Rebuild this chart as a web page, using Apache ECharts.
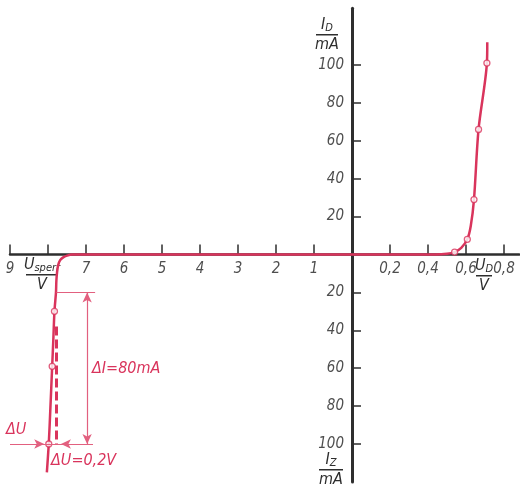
<!DOCTYPE html>
<html>
<head>
<meta charset="utf-8">
<title>zdiode_kennlinie</title>
<script src="https://cdn.jsdelivr.net/npm/echarts@6/dist/echarts.min.js"></script>
<style>
  html, body { margin: 0; padding: 0; background: #fff; }
  #main { width: 520px; height: 488px; }
</style>
</head>
<body>
<div id="main"></div>
<script>
// Durchlassbereich (U in V, I in mA)
var uFwd = [0, 0.44, 0.50, 0.54, 0.575, 0.607, 0.625, 0.642, 0.666, 0.71, 0.712];
var iFwd = [0, 0, 0.4, 1.3, 3.5, 8, 15, 29, 66, 101, 112];
var uFwdPts = [0.54, 0.607, 0.642, 0.666, 0.71];
var iFwdPts = [1.3, 8, 29, 66, 101];

// Sperrbereich (U in V, I in mA, Betraege)
var uRev = [0, 7.37, 7.5, 7.6, 7.68, 7.73, 7.76, 7.78, 7.79, 7.83, 7.86, 7.89, 7.935, 7.98, 8.03];
var iRev = [0, 0, 0.6, 1.5, 3, 5.5, 9, 14, 20, 30, 45, 59, 80, 100, 115];
var uRevPts = [7.83, 7.89, 7.98];
var iRevPts = [30, 59, 100];

// Achsbeschriftung
var xTicksRev = [9, 8, 7, 6, 5, 4, 3, 2, 1];   // V, 1 V je Teilung
var xLabelsRev = [9, 7, 6, 5, 4, 3, 2, 1];     // bei 8 steht U_sperr/V
var xTicksFwd = [0.2, 0.4, 0.6, 0.8];          // V, 0,2 V je Teilung
var yTicks = [20, 40, 60, 80, 100];

var RED = '#d9345c';
var THIN = '#e2607f';
var AX = '#2e2e2e';
var FONT = "'DejaVu Sans Condensed', 'DejaVu Sans', sans-serif";

// x-Achse in Teilungen: links -U (1 V), rechts U/0,2
function xr(u) { return -u; }
function xf(u) { return u / 0.2; }

var revLine = uRev.map(function (u, k) { return [xr(u), -iRev[k]]; });
var fwdLine = uFwd.map(function (u, k) { return [xf(u), iFwd[k]]; });
var pts = uRevPts.map(function (u, k) { return [xr(u), -iRevPts[k]]; })
  .concat(uFwdPts.map(function (u, k) { return [xf(u), iFwdPts[k]]; }));

var xTickVals = xTicksRev.map(xr).concat(xTicksFwd.map(xf));
var yTickVals = yTicks.map(function (v) { return -v; }).concat(yTicks);

// Beschriftungen sitzen an der Nulllinie, deshalb als Label-Reihen
var xLabelData = xLabelsRev.map(function (u) { return { value: [xr(u), 0], name: String(u) }; })
  .concat(xTicksFwd.map(function (u) { return { value: [xf(u), 0], name: u.toFixed(1).replace('.', ',') }; }));
var yLabelData = yTicks.map(function (v) { return { value: [0, v], name: String(v) }; })
  .concat(yTicks.map(function (v) { return { value: [0, -v], name: String(v) }; }));

function frac(cx, top, main, sub, den, w) {
  return {
    type: 'group',
    children: [
      { type: 'text', x: cx, y: top, style: {
          text: '{m|' + main + '}{s|' + sub + '}', align: 'center', verticalAlign: 'middle',
          rich: {
            m: { font: 'italic 16px ' + FONT, fill: AX },
            s: { font: 'italic 11px ' + FONT, fill: AX, padding: [7, 0, 0, 0] }
          } } },
      { type: 'rect', shape: { x: cx - w / 2, y: top + 9, width: w, height: 1.5 }, style: { fill: AX } },
      { type: 'text', x: cx, y: top + 20, style: {
          text: den, align: 'center', verticalAlign: 'middle', font: 'italic 16px ' + FONT, fill: AX } }
    ]
  };
}

function note(x, y, txt) {
  return { type: 'text', x: x, y: y, style: {
    text: txt, verticalAlign: 'middle', font: 'italic 16px ' + FONT, fill: RED } };
}

var tickFont = { fontFamily: FONT, fontStyle: 'italic', fontSize: 15, color: '#222' };

var myChart = echarts.init(document.getElementById('main'));

option = {
    animation: false,
    grid: { left: 10, right: 0.8, top: 8.15, bottom: 6.1, containLabel: false, outerBoundsMode: 'none' },
    xAxis: {
        type: 'value', min: -9, max: 4.4, z: 3,
        splitLine: { show: false },
        axisLine: { onZero: true, lineStyle: { color: AX, width: 2.5 } },
        axisTick: { inside: true, length: 10, customValues: xTickVals, lineStyle: { color: AX, width: 1.5 } },
        axisLabel: { show: false }
    },
    yAxis: {
        type: 'value', min: -120, max: 130, z: 3,
        splitLine: { show: false },
        axisLine: { onZero: true, lineStyle: { color: AX, width: 3 } },
        axisTick: { inside: true, length: 9, customValues: yTickVals, lineStyle: { color: AX, width: 1.5 } },
        axisLabel: { show: false }
    },
    series: [
        {
            type: 'line', data: revLine, smooth: 0.3, showSymbol: false, silent: true,
            lineStyle: { color: RED, width: 2.5 }
        },
        {
            type: 'line', data: fwdLine, smooth: 0.3, showSymbol: false, silent: true,
            lineStyle: { color: RED, width: 2.5 }
        },
        {
            type: 'scatter', data: pts, symbol: 'circle', symbolSize: 6, silent: true, z: 4,
            itemStyle: { color: '#fff', borderColor: RED, borderWidth: 1.3 }
        },
        {
            type: 'scatter', data: xLabelData, symbolSize: 0, silent: true,
            label: Object.assign({ show: true, position: 'bottom', distance: 7,
                formatter: function (p) { return p.name; } }, tickFont)
        },
        {
            type: 'scatter', data: yLabelData, symbolSize: 0, silent: true,
            label: Object.assign({ show: true, position: 'left', distance: 8,
                formatter: function (p) { return p.name; } }, tickFont)
        },
        {
            // Hilfslinien fuer dI und dU
            type: 'line', data: [], silent: true,
            markLine: {
                silent: true, animation: false, label: { show: false },
                symbolSize: [7, 10],
                lineStyle: { color: THIN, width: 1.2, type: 'solid' },
                data: [
                    [{ coord: [xr(7.78), -20], symbol: 'none' }, { coord: [xr(6.76), -20], symbol: 'none' }],
                    [{ coord: [xr(9.0), -100], symbol: 'none' }, { coord: [xr(6.82), -100], symbol: 'none' }],
                    [{ coord: [xr(6.97), -20], symbol: 'arrow' }, { coord: [xr(6.97), -100], symbol: 'arrow' }],
                    [{ coord: [xr(9.0), -100], symbol: 'none' }, { coord: [xr(8.1), -100], symbol: 'arrow' }],
                    [{ coord: [xr(6.82), -100], symbol: 'none' }, { coord: [xr(7.66), -100], symbol: 'arrow' }],
                    [{ coord: [xr(7.78), -38], symbol: 'none',
                       lineStyle: { color: RED, width: 3, type: [9, 4] } },
                     { coord: [xr(7.78), -100], symbol: 'none' }]
                ]
            }
        }
    ],
    graphic: [
        frac(327, 25, 'I', 'D', 'mA', 22),
        frac(331, 460, 'I', 'Z', 'mA', 24),
        frac(42, 265, 'U', 'sperr', 'V', 32),
        frac(484, 266, 'U', 'D', 'V', 16),
        note(92, 369, 'ΔI=80mA'),
        note(6, 430, 'ΔU'),
        note(51, 461, 'ΔU=0,2V')
    ]
};
myChart.setOption(option);
</script>
</body>
</html>
